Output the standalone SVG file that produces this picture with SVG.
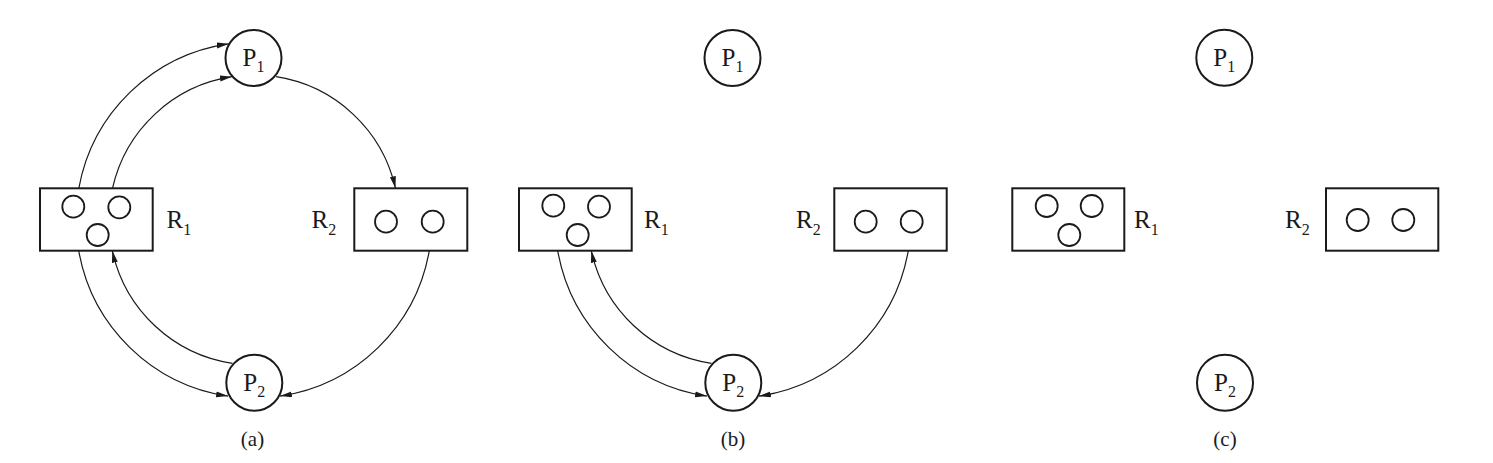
<svg xmlns="http://www.w3.org/2000/svg" width="1493" height="463" viewBox="0 0 1493 463">
<style>
.node{fill:#fff;stroke:#1a1a1a;stroke-width:2}
.tok{fill:none;stroke:#1a1a1a;stroke-width:1.8}
.edge{fill:none;stroke:#1a1a1a;stroke-width:1.2;marker-end:url(#arr)}
.lbl{font-family:"Liberation Serif","Times New Roman",serif;font-size:25px;fill:#1a1a1a}
.sub{font-size:16px}
.cap{font-family:"Liberation Serif","Times New Roman",serif;font-size:21px;fill:#1a1a1a;text-anchor:middle}
</style>
<defs>
<marker id="arr" markerUnits="userSpaceOnUse" markerWidth="13" markerHeight="7" refX="12" refY="3" orient="auto">
<path d="M0,0 L12,3 L0,6 Z" fill="#1a1a1a"/>
</marker>
</defs>
<rect width="1493" height="463" fill="#fff"/>

<!-- Panel (a) -->
<g id="panel-a">
<g id="a-edges">
<path class="edge" d="M78.8,188.3 A178,178 0 0 1 228.7,43.8"/>
<path class="edge" d="M112.5,188.3 A145,145 0 0 1 231.9,76.7"/>
<path class="edge" d="M276.1,76.7 A145,145 0 0 1 395.5,188.3"/>
<path class="edge" d="M78.7,250.7 A178,178 0 0 0 228.1,396.1"/>
<path class="edge" d="M232.5,363.4 A145,145 0 0 1 112.3,250.7"/>
<path class="edge" d="M429.3,250.7 A178,178 0 0 1 279.9,396.1"/>
</g>
<g id="a-P1">
<circle class="node" cx="253.5" cy="58" r="28"/>
<text class="lbl" x="253.5" y="65.5" text-anchor="middle">P<tspan class="sub" dy="6">1</tspan></text>
</g>
<g id="a-P2">
<circle class="node" cx="254.3" cy="382.7" r="28"/>
<text class="lbl" x="254.3" y="390.5" text-anchor="middle">P<tspan class="sub" dy="6">2</tspan></text>
</g>
<g id="a-R1">
<rect class="node" x="40" y="188.3" width="112.7" height="62.4"/>
<circle class="tok" cx="73.3" cy="206.7" r="11"/>
<circle class="tok" cx="119.3" cy="207.3" r="11"/>
<circle class="tok" cx="97.7" cy="235" r="11"/>
<text class="lbl" x="166.5" y="228">R<tspan class="sub" dy="7">1</tspan></text>
</g>
<g id="a-R2">
<rect class="node" x="354.3" y="188.3" width="113" height="62.4"/>
<circle class="tok" cx="386" cy="221.7" r="11"/>
<circle class="tok" cx="432.7" cy="221.7" r="11"/>
<text class="lbl" x="311.5" y="228">R<tspan class="sub" dy="7">2</tspan></text>
</g>
<text class="cap" x="252.5" y="446">(a)</text>
</g>

<!-- Panel (b) -->
<g id="panel-b" transform="translate(479,0)">
<g id="b-edges">
<path class="edge" d="M78.7,250.7 A178,178 0 0 0 228.1,396.1"/>
<path class="edge" d="M232.5,363.4 A145,145 0 0 1 112.3,250.7"/>
<path class="edge" d="M429.3,250.7 A178,178 0 0 1 279.9,396.1"/>
</g>
<g id="b-P1">
<circle class="node" cx="253.5" cy="58" r="28"/>
<text class="lbl" x="253.5" y="65.5" text-anchor="middle">P<tspan class="sub" dy="6">1</tspan></text>
</g>
<g id="b-P2">
<circle class="node" cx="254.3" cy="382.7" r="28"/>
<text class="lbl" x="254.3" y="390.5" text-anchor="middle">P<tspan class="sub" dy="6">2</tspan></text>
</g>
<g id="b-R1">
<rect class="node" x="40" y="188.3" width="112.7" height="62.4"/>
<circle class="tok" cx="74.3" cy="205.7" r="11"/>
<circle class="tok" cx="120" cy="206.7" r="11"/>
<circle class="tok" cx="98.7" cy="235" r="11"/>
<text class="lbl" x="165" y="228">R<tspan class="sub" dy="7">1</tspan></text>
</g>
<g id="b-R2">
<rect class="node" x="355.3" y="188.3" width="112.4" height="62.4"/>
<circle class="tok" cx="386.7" cy="221.7" r="11"/>
<circle class="tok" cx="432.7" cy="221.7" r="11"/>
<text class="lbl" x="317" y="228">R<tspan class="sub" dy="7">2</tspan></text>
</g>
<text class="cap" x="254" y="446">(b)</text>
</g>

<!-- Panel (c) -->
<g id="panel-c" transform="translate(971,0)">
<g id="c-P1">
<circle class="node" cx="253.3" cy="57.7" r="28"/>
<text class="lbl" x="253.3" y="65.5" text-anchor="middle">P<tspan class="sub" dy="6">1</tspan></text>
</g>
<g id="c-P2">
<circle class="node" cx="254" cy="382.7" r="28"/>
<text class="lbl" x="254" y="390.5" text-anchor="middle">P<tspan class="sub" dy="6">2</tspan></text>
</g>
<g id="c-R1">
<rect class="node" x="41.3" y="188.3" width="112" height="62.4"/>
<circle class="tok" cx="75.7" cy="206" r="11"/>
<circle class="tok" cx="120.7" cy="206" r="11"/>
<circle class="tok" cx="98.3" cy="235" r="11"/>
<text class="lbl" x="163" y="228">R<tspan class="sub" dy="7">1</tspan></text>
</g>
<g id="c-R2">
<rect class="node" x="355" y="188.3" width="112.3" height="62.4"/>
<circle class="tok" cx="386.7" cy="220" r="11"/>
<circle class="tok" cx="432.3" cy="220" r="11"/>
<text class="lbl" x="314" y="228">R<tspan class="sub" dy="7">2</tspan></text>
</g>
<text class="cap" x="254" y="446">(c)</text>
</g>
</svg>
